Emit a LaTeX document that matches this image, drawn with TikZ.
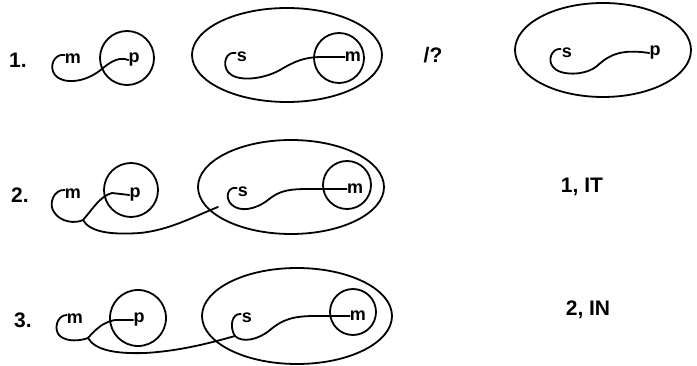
\documentclass[tikz,border=0pt]{standalone}
\usepackage{fontspec}
\setmainfont{Liberation Sans}
\usetikzlibrary{shapes.geometric}
\tikzset{
  ln/.style={line width=1.8pt, line cap=round, line join=round},
  ltr/.style={inner sep=0pt, font=\fontsize{18}{18}\selectfont\bfseries},
  lbl/.style={inner sep=0pt, font=\fontsize{21}{21}\selectfont\bfseries},
  circ/.style={draw, ln, circle, inner sep=0pt},
  ell/.style={draw, ln, ellipse, inner sep=0pt}
}
\begin{document}
\begin{tikzpicture}[x=1pt,y=-1pt]
\useasboundingbox (0,0) rectangle (697,366);
% ---------- row 1 ----------
\node[lbl] (n1) at (18,60) {1.};
\node[circ, minimum size=54pt] (c1) at (127,58) {};
\node[ltr] (m1) at (73,59) {m};
\node[ltr] (p1) at (134,60) {p};
\draw[ln] (m1.west) ++(0,-4) coordinate (a1)
  (a1) .. controls (55,53) and (48,66) .. (55,75)
       .. controls (62,84) and (85,84) .. (103,68)
       .. controls (113,60) and (120,57) .. (p1.west);
\node[ell, minimum width=190pt, minimum height=94pt] (e1) at (287,55) {};
\node[circ, minimum size=50pt] (c2) at (339,58) {};
\node[ltr] (m2) at (353,57) {m};
\node[ltr] (s1) at (242,57) {s};
\draw[ln] (s1.west) ++(-1,-4) coordinate (a2)
  (a2) .. controls (226,51) and (222,64) .. (228,72)
       .. controls (236,82) and (262,80) .. (280,70)
       .. controls (295,61) and (305,57) .. (322,57) -- (m2.west);
\node[lbl] (q1) at (433,55) {/?};
\node[ell, minimum width=176pt, minimum height=94pt] (e2) at (603,50) {};
\node[ltr] (s2) at (567,53) {s};
\node[ltr] (p2) at (655,53) {p};
\draw[ln] (s2.west) ++(-1,-4) coordinate (a3)
  (a3) .. controls (552,48) and (547,60) .. (553,67)
       .. controls (560,76) and (585,76) .. (597,66)
       .. controls (610,54) and (622,49) .. (p2.west);
% ---------- row 2 ----------
\node[lbl] (n2) at (20,195) {2.};
\node[circ, minimum size=54pt] (c3) at (131,190) {};
\node[ltr] (m3) at (73,194) {m};
\node[ltr] (p3) at (135,195) {p};
\coordinate (j2) at (83,220);
\coordinate (t2) at (218,207);
\draw[ln] (m3.west) ++(0,-4) coordinate (a4)
  (a4) .. controls (54,189) and (48,204) .. (54,212)
       .. controls (60,222) and (75,224) .. (j2)
       .. controls (92,210) and (100,196) .. (112,193) -- (p3.west);
\draw[ln] (j2) .. controls (90,232) and (110,235) .. (140,233)
               .. controls (170,230) and (195,216) .. (t2);
\node[ell, minimum width=186pt, minimum height=94pt] (e3) at (291,187) {};
\node[circ, minimum size=48pt] (c4) at (347,185) {};
\node[ltr] (m4) at (355,189) {m};
\node[ltr] (s3) at (243,192) {s};
\draw[ln] (s3.west) ++(-1,-4) coordinate (a5)
  (a5) .. controls (228,186) and (224,198) .. (232,205)
       .. controls (240,212) and (255,210) .. (268,200)
       .. controls (280,190) and (290,189) .. (310,189) -- (m4.west);
\node[lbl] (r1) at (582,187) {1, IT};
% ---------- row 3 ----------
\node[lbl] (n3) at (23,320) {3.};
\node[circ, minimum size=56pt] (c5) at (138,318) {};
\node[ltr] (m5) at (75,319) {m};
\node[ltr] (p4) at (139,320) {p};
\coordinate (j3) at (88,338);
\coordinate (k3) at (235,336);
\draw[ln] (m5.west) ++(0,-4) coordinate (a6)
  (a6) .. controls (57,315) and (53,330) .. (60,336)
       .. controls (67,342) and (80,341) .. (j3)
       .. controls (95,330) and (103,322) .. (115,320) -- (p4.west);
\draw[ln] (j3) .. controls (95,350) and (115,354) .. (145,353)
               .. controls (180,351) and (210,343) .. (k3);
\node[ell, minimum width=190pt, minimum height=96pt] (e4) at (297,316) {};
\node[circ, minimum size=46pt] (c6) at (353,312) {};
\node[ltr] (m6) at (358,316) {m};
\node[ltr] (s4) at (247,318) {s};
\draw[ln] (s4.west) ++(-1,-4) coordinate (a7)
  (a7) .. controls (232,313) and (229,327) .. (k3)
       .. controls (242,343) and (258,340) .. (270,330)
       .. controls (282,320) and (292,316) .. (315,316) -- (m6.west);
\node[lbl] (r2) at (588,310) {2, IN};
\end{tikzpicture}
\end{document}
